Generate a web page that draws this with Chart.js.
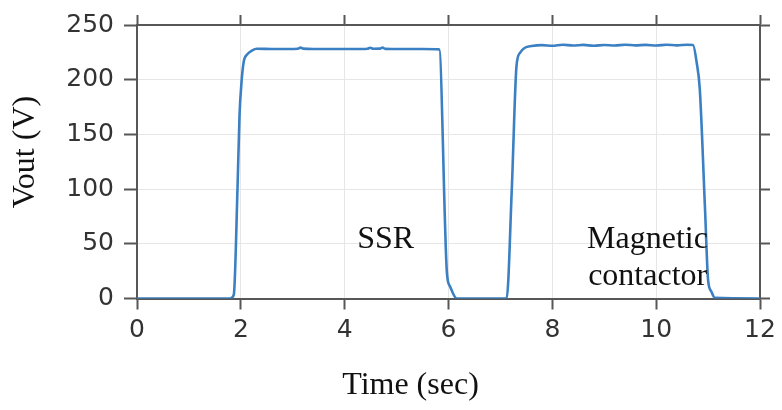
<!DOCTYPE html>
<html>
<head>
<meta charset="utf-8">
<title>Vout vs time</title>
<script src="https://cdn.jsdelivr.net/npm/chart.js@4.4.1/dist/chart.umd.min.js"></script>
<style>
  html, body { margin: 0; padding: 0; background: #fff; }
  #wrap { width: 782px; height: 410px; position: relative; }
</style>
</head>
<body>
<div id="wrap"><canvas id="voutChart"></canvas></div>
<script>
// Measured output voltage, SSR pulse then magnetic contactor pulse
const timeSec = [0, 1.80, 1.865, 1.936, 1.975, 2.013, 2.058, 2.12, 2.22, 2.31, 2.6, 2.9, 3.1, 3.15, 3.2, 3.4, 3.8, 4.2,
  4.44, 4.49, 4.55, 4.68, 4.73, 4.78, 5.1, 5.5, 5.82, 5.97, 6.03, 6.16,
  7.12, 7.22, 7.31, 7.38, 7.47, 7.60, 7.8, 8.0, 8.2, 8.4, 8.6, 8.8, 9.0, 9.2, 9.4, 9.6, 9.8, 10.0, 10.2, 10.4, 10.6,
  10.71, 10.78, 10.84, 10.94, 11.0, 11.06, 11.13, 12];
const voltage = [0, 0, 3.6, 101, 167.6, 197.7, 217, 223, 226.8, 228.3, 228, 228, 228.3, 229.3, 228.4, 228, 228, 228,
  228.3, 229.2, 228.3, 228.4, 229.3, 228.2, 228, 228, 227.7, 23.2, 11, 0,
  0, 101, 212.7, 224.7, 229.2, 230.8, 231.6, 231, 232, 231.2, 231.8, 231, 231.7, 231.2, 232, 231.4, 231.8, 231.2, 232, 231.4, 231.9,
  231.7, 215.7, 191.6, 83, 17, 6.6, 0.6, 0];

const xTicks = [0, 2, 4, 6, 8, 10, 12];
const yTicks = [0, 50, 100, 150, 200, 250];

// text labels placed in data units (left edge, baseline)
const noteText = ['SSR', 'Magnetic', 'contactor'];
const noteT = [4.24, 8.67, 8.69];
const noteV = [45.8, 45.8, 12.3];

const xTitle = 'Time (sec)';
const yTitle = 'Vout (V)';

const tickFont = { family: 'DejaVu Sans', size: 25 };
const serif = '32px "Liberation Serif", "Times New Roman", serif';
const frameColor = '#575757';

// annotation and axis-title text
const textPlugin = {
  id: 'textPlugin',
  afterDraw(chart) {
    const ctx = chart.ctx;
    const area = chart.chartArea;
    const xs = chart.scales.x, ys = chart.scales.y;
    ctx.save();
    ctx.font = serif;
    ctx.fillStyle = '#111';
    ctx.textAlign = 'left';
    ctx.textBaseline = 'alphabetic';
    for (let i = 0; i < noteText.length; i++) {
      ctx.fillText(noteText[i], xs.getPixelForValue(noteT[i]), ys.getPixelForValue(noteV[i]));
    }
    ctx.textAlign = 'center';
    ctx.textBaseline = 'middle';
    ctx.fillText(xTitle, area.left + 0.439 * (area.right - area.left), area.bottom + 87);
    ctx.translate(area.left - 111, area.top + 127);
    ctx.rotate(-Math.PI / 2);
    ctx.fillText(yTitle, 0, 0);
    ctx.restore();
  }
};

const ctx = document.getElementById('voutChart').getContext('2d');
const chart = new Chart(ctx, {
  type: 'scatter',
  data: {
    datasets: [{
      label: 'Vout',
      data: timeSec.map((t, i) => ({ x: t, y: voltage[i] })),
      showLine: true,
      borderColor: '#3a80c3',
      borderWidth: 2.6,
      pointRadius: 0,
      cubicInterpolationMode: 'monotone'
    }]
  },
  options: {
    responsive: true,
    maintainAspectRatio: false,
    animation: false,
    layout: { padding: 0 },
    plugins: { legend: { display: false }, tooltip: { enabled: false } },
    scales: {
      x: {
        type: 'linear', position: 'bottom', min: 0, max: 12,
        afterBuildTicks(s) { s.ticks = xTicks.map(v => ({ value: v })); },
        ticks: { font: tickFont, color: '#333', padding: 6 },
        grid: { color: '#e6e6e6', lineWidth: 1, tickColor: frameColor, tickWidth: 2, tickLength: 11 },
        border: { color: frameColor, width: 2 },
        afterFit(s) { s.height = 111.5; }
      },
      y: {
        type: 'linear', position: 'left', min: 0, max: 250,
        afterBuildTicks(s) { s.ticks = yTicks.map(v => ({ value: v })); },
        ticks: { font: tickFont, color: '#333', padding: 10 },
        grid: { color: '#e6e6e6', lineWidth: 1, tickColor: frameColor, tickWidth: 2, tickLength: 13 },
        border: { color: frameColor, width: 2 },
        afterFit(s) { s.width = 137; }
      },
      x2: {
        type: 'linear', position: 'top', min: 0, max: 12,
        afterBuildTicks(s) { s.ticks = xTicks.map(v => ({ value: v })); },
        ticks: { display: false },
        grid: { drawOnChartArea: false, tickColor: frameColor, tickWidth: 2, tickLength: 10 },
        border: { color: frameColor, width: 2 },
        afterFit(s) { s.height = 23; }
      },
      y2: {
        type: 'linear', position: 'right', min: 0, max: 250,
        afterBuildTicks(s) { s.ticks = yTicks.map(v => ({ value: v })); },
        ticks: { display: false },
        grid: { drawOnChartArea: false, tickColor: frameColor, tickWidth: 2, tickLength: 10 },
        border: { color: frameColor, width: 2 },
        afterFit(s) { s.width = 22; }
      }
    }
  },
  plugins: [textPlugin]
});
</script>
</body>
</html>
